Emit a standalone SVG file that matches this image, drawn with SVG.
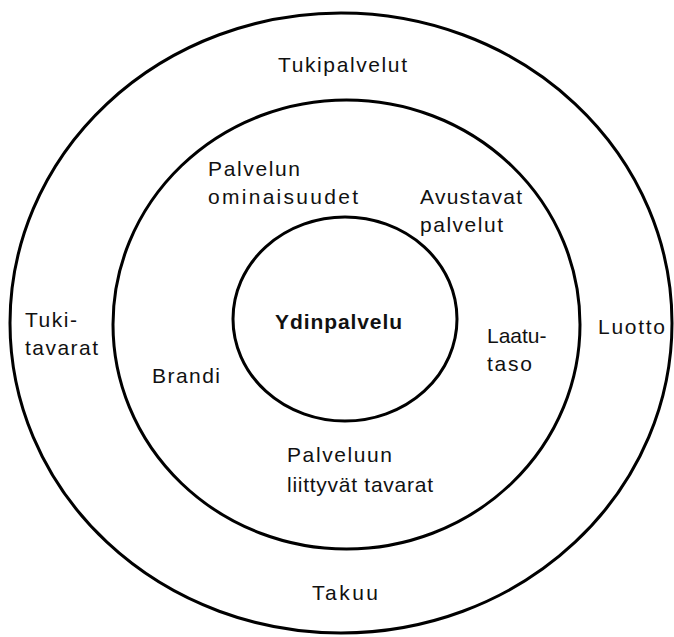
<svg xmlns="http://www.w3.org/2000/svg" width="674" height="637" viewBox="0 0 674 637">
<style>
.ring{fill:none;stroke:#000;stroke-width:3}
.t{font-family:"Liberation Sans",Arial,sans-serif;font-size:21px;fill:#111}
.b{font-weight:bold}
</style>
<rect width="674" height="637" fill="#fff"/>
<g id="outer">
<ellipse class="ring" cx="341" cy="323" rx="331" ry="310"/>
<text class="t" x="278" y="72" textLength="129" lengthAdjust="spacing">Tukipalvelut</text>
<text class="t" x="25" y="327" textLength="52" lengthAdjust="spacing">Tuki-</text>
<text class="t" x="25" y="355" textLength="73" lengthAdjust="spacing">tavarat</text>
<text class="t" x="598" y="334" textLength="67" lengthAdjust="spacing">Luotto</text>
<text class="t" x="312" y="600" textLength="66" lengthAdjust="spacing">Takuu</text>
</g>
<g id="middle">
<ellipse class="ring" cx="346.5" cy="324.5" rx="233.5" ry="224.5"/>
<text class="t" x="208" y="176" textLength="92" lengthAdjust="spacing">Palvelun</text>
<text class="t" x="208" y="204" textLength="150" lengthAdjust="spacing">ominaisuudet</text>
<text class="t" x="420" y="204" textLength="102" lengthAdjust="spacing">Avustavat</text>
<text class="t" x="420" y="232" textLength="83" lengthAdjust="spacing">palvelut</text>
<text class="t" x="487" y="343">Laatu-</text>
<text class="t" x="487" y="371" textLength="45" lengthAdjust="spacing">taso</text>
<text class="t" x="152" y="383" textLength="68" lengthAdjust="spacing">Brandi</text>
<text class="t" x="287" y="462" textLength="105" lengthAdjust="spacing">Palveluun</text>
<text class="t" x="287" y="492" textLength="146" lengthAdjust="spacing">liittyvät tavarat</text>
</g>
<g id="core">
<ellipse class="ring" cx="345" cy="319" rx="112" ry="102"/>
<text class="t b" x="275" y="329" textLength="127" lengthAdjust="spacing">Ydinpalvelu</text>
</g>
</svg>
